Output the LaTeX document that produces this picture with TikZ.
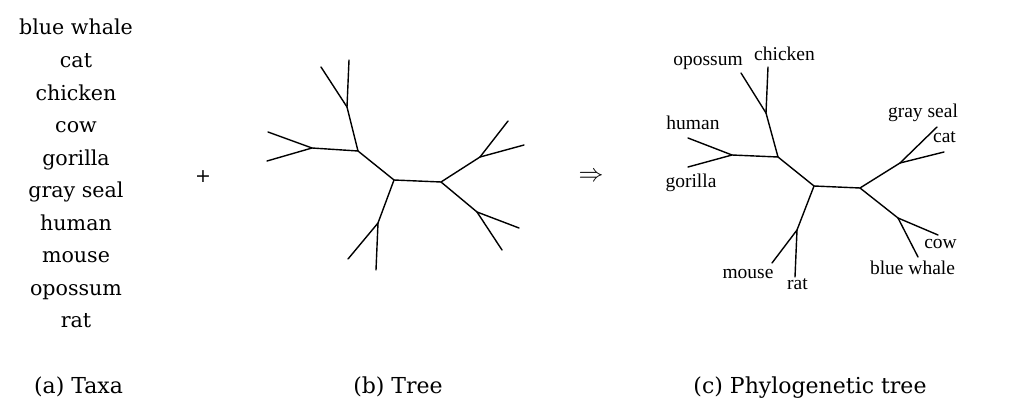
\documentclass[tikz,border=0pt]{standalone}
\usepackage{fontspec}
\setmainfont{DejaVu Serif}
\newfontfamily\timesfont{Liberation Serif}
\begin{document}
\begin{tikzpicture}[x=1pt,y=-1pt,
  taxon/.style={font=\fontsize{20.6}{24}\selectfont,anchor=base,inner sep=0pt},
  captext/.style={font=\fontsize{22}{26}\selectfont,anchor=base,inner sep=0pt},
  lab/.style={font=\timesfont\fontsize{19.5}{22}\selectfont,anchor=base,inner sep=0pt},
  edge/.style={line width=1.4pt,line cap=round,line join=round}]
\useasboundingbox (0,0) rectangle (1032,414);
% (a) taxa
\foreach \t [count=\i] in {blue whale,cat,chicken,cow,gorilla,gray seal,human,mouse,opossum,rat}
  \node[taxon] (t\i) at (76,{35+32.55*(\i-1)}) {\t};
\node[captext] (capa) at (78.5,393) {(a) Taxa};
\node[font=\fontsize{19}{20}\selectfont] (plus) at (203,177) {+};
% (b) tree
\coordinate (bA) at (394,180);
\coordinate (bB) at (441,182);
\coordinate (bC) at (358,151);
\coordinate (bD) at (347,107);
\coordinate (bD1) at (321,67);
\coordinate (bD2) at (349,60);
\coordinate (bE) at (312,148);
\coordinate (bE1) at (268,132);
\coordinate (bE2) at (267,161);
\coordinate (bF) at (378,223);
\coordinate (bF1) at (348,259);
\coordinate (bF2) at (376,270);
\coordinate (bG) at (480,157);
\coordinate (bG1) at (508,121);
\coordinate (bG2) at (524,145);
\coordinate (bH) at (477,212);
\coordinate (bH1) at (519,228);
\coordinate (bH2) at (502,250);
\draw[edge] (bA) -- (bB);
\draw[edge] (bA) -- (bC) -- (bD) -- (bD1);
\draw[edge] (bD) -- (bD2);
\draw[edge] (bC) -- (bE) -- (bE1);
\draw[edge] (bE) -- (bE2);
\draw[edge] (bA) -- (bF) -- (bF1);
\draw[edge] (bF) -- (bF2);
\draw[edge] (bB) -- (bG) -- (bG1);
\draw[edge] (bG) -- (bG2);
\draw[edge] (bB) -- (bH) -- (bH1);
\draw[edge] (bH) -- (bH2);
\node[captext] (capb) at (398,393) {(b) Tree};
\node[font=\fontsize{26}{28}\selectfont] (arrow) at (591,177) {$\Rightarrow$};
% (c) phylogenetic tree
\coordinate (cA) at (814,186);
\coordinate (cB) at (860,188);
\coordinate (cC) at (778,157);
\coordinate (cD) at (766,113);
\coordinate (cD1) at (741,73);
\coordinate (cD2) at (768,67);
\coordinate (cE) at (732,155);
\coordinate (cE1) at (688,138);
\coordinate (cE2) at (688,167);
\coordinate (cF) at (797,230);
\coordinate (cF1) at (772,263);
\coordinate (cF2) at (795,277);
\coordinate (cG) at (900,163);
\coordinate (cG1) at (937,127);
\coordinate (cG2) at (944,152);
\coordinate (cH) at (898,218);
\coordinate (cH1) at (938,235);
\coordinate (cH2) at (918,257);
\draw[edge] (cA) -- (cB);
\draw[edge] (cA) -- (cC) -- (cD) -- (cD1);
\draw[edge] (cD) -- (cD2);
\draw[edge] (cC) -- (cE) -- (cE1);
\draw[edge] (cE) -- (cE2);
\draw[edge] (cA) -- (cF) -- (cF1);
\draw[edge] (cF) -- (cF2);
\draw[edge] (cB) -- (cG) -- (cG1);
\draw[edge] (cG) -- (cG2);
\draw[edge] (cB) -- (cH) -- (cH1);
\draw[edge] (cH) -- (cH2);
\node[lab] (lopossum) at (708,66) {opossum};
\node[lab] (lchicken) at (784.5,61) {chicken};
\node[lab] (lhuman) at (693,130) {human};
\node[lab] (lgorilla) at (691,187) {gorilla};
\node[lab] (lgrayseal) at (923,118) {gray seal};
\node[lab] (lcat) at (944.5,143) {cat};
\node[lab] (lcow) at (940.5,248) {cow};
\node[lab] (lbluewhale) at (912.5,274) {blue whale};
\node[lab] (lmouse) at (748,278) {mouse};
\node[lab] (lrat) at (797.5,289) {rat};
\node[captext] (capc) at (810,393) {(c) Phylogenetic tree};
\end{tikzpicture}
\end{document}
